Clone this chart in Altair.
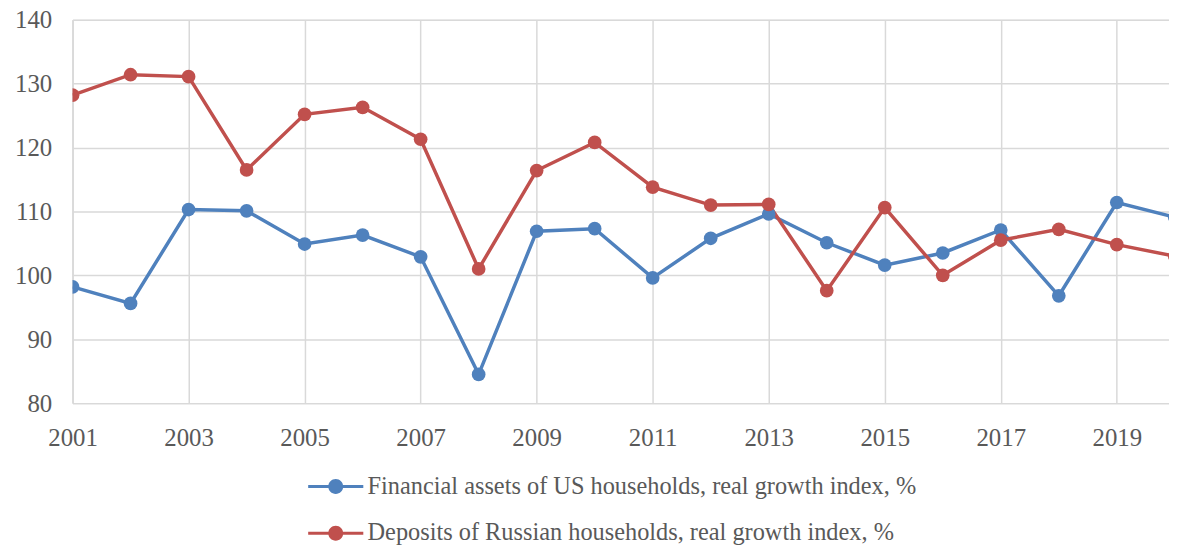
import altair as alt
import pandas as pd

years = list(range(2001, 2021))
us_assets = [98.2, 95.6, 110.3, 110.1, 104.9, 106.3, 102.9, 84.5, 106.9, 107.3,
             99.6, 105.8, 109.6, 105.1, 101.6, 103.5, 107.1, 96.8, 111.4, 109.1]
ru_deposits = [128.2, 131.4, 131.1, 116.5, 125.2, 126.3, 121.3, 101.0, 116.4, 120.8,
               113.8, 111.0, 111.1, 97.6, 110.6, 100.0, 105.5, 107.2, 104.8, 103.0]
series_names = ["Financial assets of US households, real growth index, %",
                "Deposits of Russian households, real growth index, %"]
colors = ["#4F81BD", "#C0504D"]
x_ticks = list(range(2001, 2020, 2))
y_ticks = [80, 90, 100, 110, 120, 130, 140]

rows = []
for y, a, b in zip(years, us_assets, ru_deposits):
    rows.append({"year": y, "value": a, "series": series_names[0]})
    rows.append({"year": y, "value": b, "series": series_names[1]})
df = pd.DataFrame(rows)

FONT = "Liberation Serif"
TXT = "#595959"
GRID = "#d9d9d9"
FS = 25

legend_symbol = ("M-1.85,-0.1 H1.85 V0.1 H-1.85 Z "
                 "M-0.5,0 A0.5,0.5 0 1,1 0.5,0 A0.5,0.5 0 1,1 -0.5,0 Z")

x = alt.X("year:Q",
          scale=alt.Scale(domain=[2001, 2019.9], nice=False, zero=False),
          axis=alt.Axis(values=x_ticks, format="d", title=None, grid=True,
                        ticks=False, labelFontSize=FS, labelColor=TXT,
                        labelFont=FONT, labelPadding=23, domainColor=GRID,
                        gridColor=GRID, gridWidth=1.5, domainWidth=1.5,
                        labelFlush=False))
y = alt.Y("value:Q",
          scale=alt.Scale(domain=[80, 140], nice=False, zero=False),
          axis=alt.Axis(values=y_ticks, title=None, grid=True, ticks=False,
                        labelFontSize=FS, labelColor=TXT, labelFont=FONT,
                        labelPadding=21, domainColor=GRID, gridColor=GRID,
                        gridWidth=1.5, domainWidth=1.5))
color = alt.Color("series:N",
                  scale=alt.Scale(domain=series_names, range=colors),
                  legend=alt.Legend(title=None, orient="none", legendX=250,
                                    legendY=455, direction="vertical",
                                    symbolType=legend_symbol, symbolSize=900,
                                    symbolStrokeWidth=0, symbolOpacity=1,
                                    labelFontSize=24.5, labelFont=FONT,
                                    labelColor=TXT, labelOffset=17,
                                    labelLimit=1000,
                                    rowPadding=20, padding=0))

base = alt.Chart(df)
lines = base.mark_line(strokeWidth=3.5, clip=True).encode(x=x, y=y, color=color)
points = base.mark_point(filled=True, size=190, opacity=1, clip=True).encode(
    x=x, y=y, color=alt.Color("series:N", scale=alt.Scale(domain=series_names, range=colors), legend=None))

chart = (lines + points).properties(
    width=1104, height=386,
    autosize=alt.AutoSizeParams(type="none"),
    padding={"left": 65, "top": 10, "right": 0, "bottom": 141},
).configure_view(stroke=None).configure(background="white")

chart.save("out.html", embed_options={"renderer": "svg", "actions": False})
